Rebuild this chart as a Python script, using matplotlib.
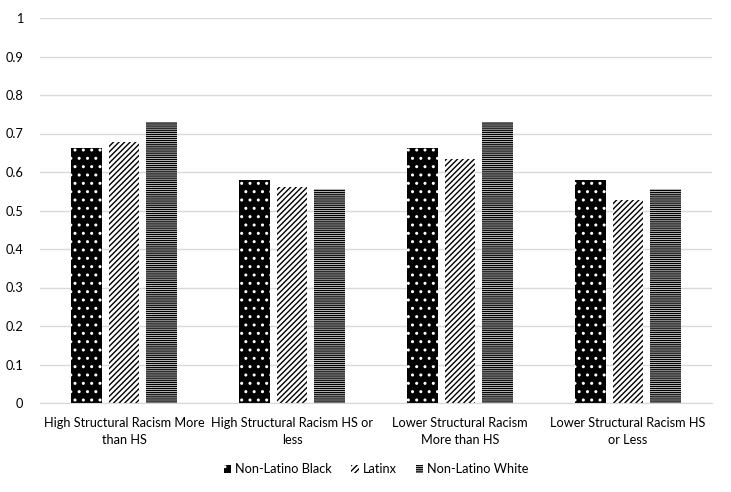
import matplotlib.pyplot as plt
import numpy as np

plt.rcParams['font.family'] = ['Lato', 'DejaVu Sans']
plt.rcParams['hatch.linewidth'] = 1.0

categories = ['High Structural Racism More\nthan HS', 'High Structural Racism HS or\nless',
              'Lower Structural Racism\nMore than HS', 'Lower Structural Racism HS\nor Less']
black = [0.663, 0.579, 0.663, 0.579]
latinx = [0.677, 0.561, 0.633, 0.527]
white = [0.729, 0.555, 0.729, 0.555]

fig = plt.figure(figsize=(7.31, 4.92), dpi=100)
ax = fig.add_axes([40/731, 1 - 403/492, 672/731, 385/492])

x = np.arange(len(categories))
w = 0.18
off = 0.223
ax.bar(x - off, black, w, color='black', edgecolor='white', hatch='..', linewidth=0, label='Non-Latino Black')
ax.bar(x, latinx, w, color='white', edgecolor='black', hatch='//////', linewidth=0, label='Latinx')
ax.bar(x + off, white, w, color='white', edgecolor='black', hatch='--------', linewidth=0, label='Non-Latino White')

ax.set_xlim(-0.5, 3.5)
ax.set_ylim(0, 1)
ax.set_yticks(np.arange(0, 1.01, 0.1))
ax.set_yticklabels(['0'] + ['%.1f' % v for v in np.arange(0.1, 0.95, 0.1)] + ['1'])
ax.set_xticks(x)
ax.set_xticklabels(categories, linespacing=1.5)
ax.yaxis.grid(True, color='#d9d9d9', linewidth=1)
ax.set_axisbelow(True)
for s in ['top', 'right', 'left']:
    ax.spines[s].set_visible(False)
ax.spines['bottom'].set_color('#d9d9d9')
ax.tick_params(axis='both', length=0, labelsize=9.2, colors='#000000')
ax.tick_params(axis='x', pad=10)
ax.tick_params(axis='y', pad=12)

ax.legend(loc='upper center', bbox_to_anchor=(0.5, -0.127), ncol=3, frameon=False,
          fontsize=9.2, handlelength=0.6, handleheight=0.6, columnspacing=1.5, handletextpad=0.3)

fig.savefig('out.png')
